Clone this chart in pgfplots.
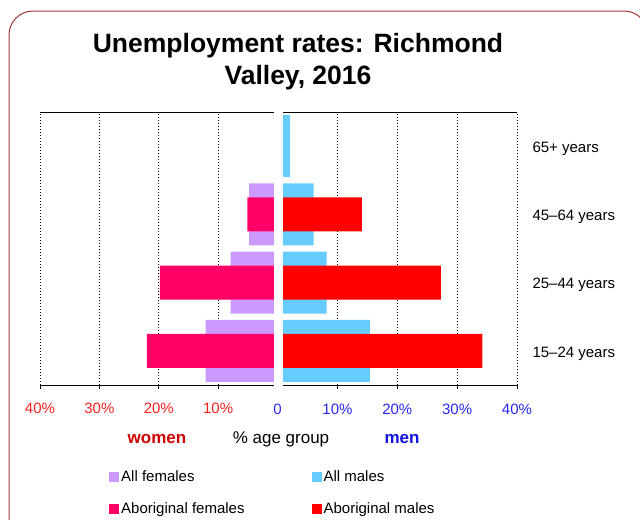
\documentclass[border=0pt]{standalone}
\usepackage{pgfplots}
\pgfplotsset{compat=1.18}
\usepackage{fontspec}
\setmainfont{Liberation Sans}
\definecolor{allf}{HTML}{CC99FF}
\definecolor{abf}{HTML}{FF0066}
\definecolor{allm}{HTML}{66CCFF}
\definecolor{abm}{HTML}{FF0000}
\definecolor{tickred}{HTML}{FF2020}
\definecolor{tickblue}{HTML}{2828F0}
\definecolor{womenred}{HTML}{D00000}
\definecolor{menblue}{HTML}{1010E0}
\definecolor{framecol}{HTML}{A03838}
\newcommand{\fs}{\fontsize{15bp}{18bp}\selectfont}
\pgfplotsset{
  pyr/.style={
    scale only axis, width=234bp, height=273bp,
    xmax=40, ymin=-0.5, ymax=3.5,
    xtick={10,20,30,40},
    xmajorgrids,
    grid style={black, line width=0.6bp, dash pattern=on 1.5bp off 1.5bp},
    separate axis lines,
    x axis line style={black, line width=1bp},
    y axis line style={draw=none},
    xtick pos=left,
    tick align=outside,
    major tick length=4bp,
    xtick style={black, line width=0.6bp},
    ytick style={draw=none},
    tick label style={font=\fs},
    /pgf/number format/assume math mode=true,
    xbar, bar shift=0pt,
    clip=true,
  },
}
\begin{document}
\begin{tikzpicture}
\useasboundingbox (0,0) rectangle (640bp,-520bp);
\draw[framecol, line width=1bp, rounded corners=24bp] (9bp,-11bp) rectangle (648bp,-545bp);
\node[anchor=base, font=\bfseries\fontsize{26.5bp}{30bp}\selectfont] at (298bp,-52bp) {Unemployment rates: Richmond};
\node[anchor=base, font=\bfseries\fontsize{26.5bp}{30bp}\selectfont] at (298bp,-84bp) {Valley, 2016};

% women
\begin{axis}[pyr,
  at={(40bp,-112bp)}, anchor=north west,
  x dir=reverse, xmin=0.6,
  xticklabels={10\%,20\%,30\%,40\%},
  xticklabel style={text=tickred, yshift=-11bp},
  ytick=\empty,
]
\addplot[fill=allf, draw=none, bar width=0.906] coordinates {(12.1,0) (7.9,1) (4.8,2)};
\addplot[fill=abf, draw=none, bar width=0.5] coordinates {(22.0,0) (19.8,1) (5.1,2)};
\end{axis}

% men
\begin{axis}[pyr,
  at={(283bp,-112bp)}, anchor=north west,
  xmin=0.9,
  xticklabels={10\%,20\%,30\%,40\%},
  xticklabel style={text=tickblue, yshift=-11bp},
  ytick={0,1,2,3},
  yticklabels={15–24 years,25–44 years,45–64 years,65+ years},
  yticklabel pos=right,
  yticklabel style={anchor=west, xshift=8bp, yshift=-2.5bp},
  legend columns=2,
  legend cell align=left,
  legend image code/.code={\fill[#1] (0bp,-5bp) rectangle (10bp,5bp);},
  legend style={at={(axis description cs:-0.7436,-0.305)}, anchor=north west,
    draw=none, fill=none, inner sep=0pt, font=\fs,
    row sep=16bp,
    /tikz/every even column/.append style={column sep=65bp}},
]
\addlegendimage{fill=allf, draw=none}
\addlegendentry{All females}
\addplot[fill=allm, draw=none, bar width=0.906] coordinates {(15.4,0) (8.2,1) (6.0,2) (2.1,3)};
\addlegendentry{All males}
\addlegendimage{fill=abf, draw=none}
\addlegendentry{Aboriginal females}
\addplot[fill=abm, draw=none, bar width=0.5] coordinates {(34.2,0) (27.3,1) (14.1,2)};
\addlegendentry{Aboriginal males}
\end{axis}

\node[anchor=base, font=\fs, text=tickblue] at (277.6bp,-414bp) {0};
\node[anchor=base, font=\bfseries\fontsize{17bp}{20bp}\selectfont, text=womenred] at (157bp,-443bp) {women};
\node[anchor=base, font=\fontsize{17bp}{20bp}\selectfont] at (281bp,-443bp) {\% age group};
\node[anchor=base, font=\bfseries\fontsize{17bp}{20bp}\selectfont, text=menblue] at (402bp,-443bp) {men};
\end{tikzpicture}
\end{document}
